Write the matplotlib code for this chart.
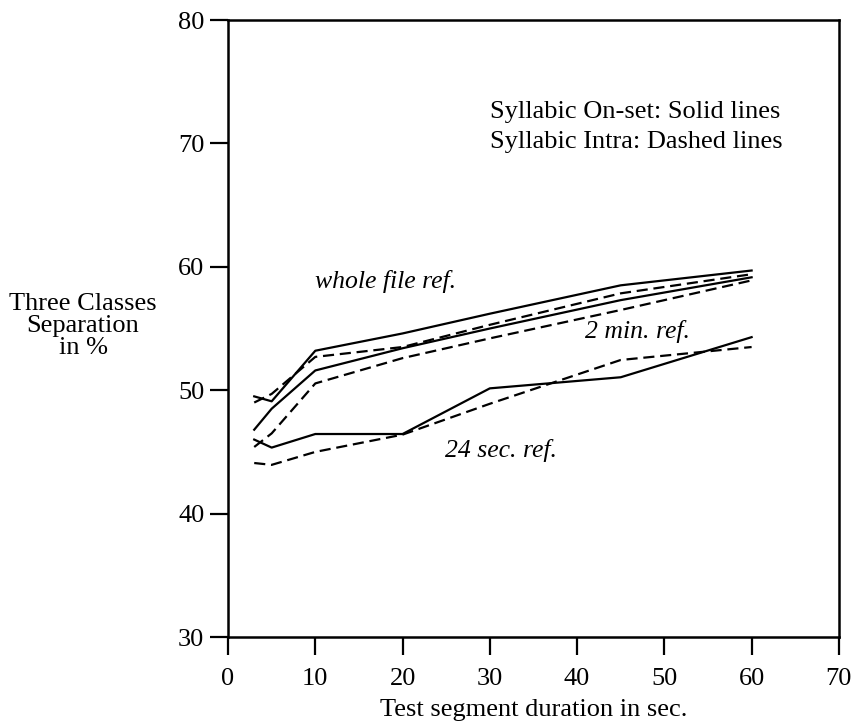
import matplotlib.pyplot as plt

plt.rcParams['font.family'] = 'Liberation Serif'

# Test segment durations (sec.)
duration = [3, 5, 10, 20, 30, 45, 60]

# Three classes separation (%) per reference length
whole_onset = [49.5, 49.1, 53.2, 54.6, 56.2, 58.5, 59.7]
whole_intra = [49.0, 49.7, 52.7, 53.5, 55.3, 57.85, 59.4]
min2_onset = [46.8, 48.5, 51.6, 53.4, 55.0, 57.3, 59.15]
min2_intra = [45.4, 46.5, 50.55, 52.6, 54.2, 56.5, 58.9]
sec24_onset = [46.0, 45.35, 46.45, 46.45, 50.15, 51.05, 54.3]
sec24_intra = [44.1, 43.95, 45.0, 46.4, 48.9, 52.45, 53.5]

x_ticks = [0, 10, 20, 30, 40, 50, 60, 70]
y_ticks = [30, 40, 50, 60, 70, 80]

fig = plt.figure(figsize=(8.56, 7.28), dpi=100)
ax = fig.add_axes([0.2664, 0.125, 0.7136, 0.8475])

dash = (0, (5, 2.6))
for onset, intra in [(whole_onset, whole_intra),
                     (min2_onset, min2_intra),
                     (sec24_onset, sec24_intra)]:
    ax.plot(duration, onset, color='black', lw=1.6)
    ax.plot(duration, intra, color='black', lw=1.6, linestyle=dash)

ax.set_xlim(0, 70)
ax.set_ylim(30, 80)
ax.set_xticks(x_ticks)
ax.set_yticks(y_ticks)
ax.tick_params(direction='out', length=13, width=1.6, labelsize=19,
               top=False, right=False)
ax.tick_params(axis='x', pad=9)
ax.tick_params(axis='y', pad=4)
for sp in ax.spines.values():
    sp.set_linewidth(1.8)

ax.set_xlabel('Test segment duration in sec.', fontsize=19, labelpad=7)
fig.text(0.097, 0.552, 'Three Classes\nSeparation\nin %', fontsize=19,
         ha='center', va='center', multialignment='center', linespacing=1.02)

ax.text(30.0, 72.55, 'Syllabic On-set: Solid lines', fontsize=19, va='center')
ax.text(30.0, 70.1, 'Syllabic Intra: Dashed lines', fontsize=19, va='center')
ax.text(10.0, 58.8, 'whole file ref.', fontsize=18.5, style='italic', va='center')
ax.text(40.9, 54.74, '2 min. ref.', fontsize=18.5, style='italic', va='center')
ax.text(24.9, 45.15, '24 sec. ref.', fontsize=18.5, style='italic', va='center')

fig.savefig('out.png', dpi=100)
